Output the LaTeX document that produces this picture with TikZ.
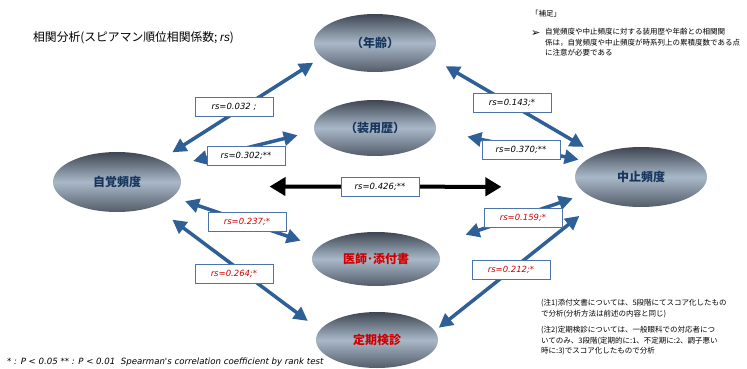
\documentclass[tikz,border=0pt]{standalone}
\usepackage{fontspec}
\setmainfont{Liberation Sans}
\newfontfamily\jp{Noto Sans CJK JP}
\newfontfamily\dv{DejaVu Sans}
\usetikzlibrary{shapes.geometric,arrows.meta}
\definecolor{arrblue}{HTML}{2E5F96}
\definecolor{boxline}{HTML}{4C74A8}
\definecolor{navy}{HTML}{17365D}
\definecolor{redt}{HTML}{D00000}
\definecolor{elldark}{HTML}{3E4652}
\definecolor{elllight}{HTML}{A9B8C8}
\tikzset{
  ell/.style={ellipse, inner sep=0pt, draw=none, top color=elldark, bottom color=elldark!80!elllight, middle color=elllight, font=\jp\bfseries\fontsize{12}{14}\selectfont, text=navy},
  redlab/.style={text=redt},
  biarrow/.style={arrblue, line width=3.5pt, {Triangle[length=14pt,width=14pt]}-{Triangle[length=14pt,width=14pt]}},
  blkarrow/.style={black, line width=4pt, {Triangle[length=16pt,width=18pt]}-{Triangle[length=16pt,width=18pt]}},
  rsbox/.style={draw=boxline, line width=0.8pt, fill=white, minimum width=78pt, minimum height=19pt, inner sep=1pt, font=\dv\itshape\fontsize{8.5}{10}\selectfont},
  rsred/.style={rsbox, text=redt},
  smalljp/.style={font=\jp\fontsize{7.5}{10.5}\selectfont, align=left, inner sep=0pt}
}
\begin{document}
\begin{tikzpicture}[x=1pt,y=-1pt]
\useasboundingbox (0,0) rectangle (747,369);
% ellipses
\node[ell, minimum width=128pt, minimum height=60pt] (J) at (117,182) {自覚頻度};
\node[ell, minimum width=122pt, minimum height=58pt] (N) at (375,43) {（年齢）};
\node[ell, minimum width=122pt, minimum height=56pt] (S) at (375,128) {（装用歴）};
\node[ell, minimum width=132pt, minimum height=60pt] (C) at (641,177) {中止頻度};
\node[ell, redlab, minimum width=128pt, minimum height=54pt] (I) at (376,259) {医師･添付書};
\node[ell, redlab, minimum width=122pt, minimum height=56pt] (T) at (377,340) {定期検診};
% connectors
\draw[biarrow, shorten <=14pt, shorten >=10pt] (J.27.8) -- (N.195.1);
\draw[biarrow, shorten <=22pt, shorten >=17pt] (J.16.1) -- (S.183.7);
\draw[blkarrow, shorten <=89pt, shorten >=77pt] (J.-4.5) -- (C.189.1);
\draw[biarrow, shorten <=13pt, shorten >=19pt] (J.345.2) -- (I.168.1);
\draw[biarrow, shorten <=22pt, shorten >=15pt] (J.327.3) -- (T.170.5);
\draw[biarrow, shorten <=19pt, shorten >=15pt] (N.346.9) -- (C.153.4);
\draw[biarrow, shorten <=32pt, shorten >=6.5pt] (S.358.8) -- (C.164.9);
\draw[biarrow, shorten <=35pt, shorten >=14pt] (I.13.9) -- (C.197.2);
\draw[biarrow, shorten <=5pt, shorten >=25pt] (T.9.0) -- (C.209.7);
% labels
\node[rsbox] (l1) at (234,107) {rs=0.032 ;};
\node[rsbox] (l2) at (246,156) {rs=0.302;**};
\node[rsbox] (l3) at (380,187) {rs=0.426;**};
\node[rsred] (l4) at (247,222) {rs=0.237;*};
\node[rsred] (l5) at (234,274) {rs=0.264;*};
\node[rsbox] (l6) at (512,103) {rs=0.143;*};
\node[rsbox] (l7) at (521,150) {rs=0.370;**};
\node[rsred] (l8) at (523,218) {rs=0.159;*};
\node[rsred] (l9) at (511,270) {rs=0.212;*};
% texts
\node[anchor=west, inner sep=0pt, font=\jp\fontsize{11.8}{13}\selectfont] (title) at (33,38) {相関分析(スピアマン順位相関係数; {\rmfamily\itshape rs})};
\node[smalljp, anchor=north west] (hosoku) at (531,10) {「補足」};
\node[anchor=west, inner sep=0pt, font=\dv\bfseries\fontsize{11}{12}\selectfont] (bul) at (531,33.5) {➢};
\node[smalljp, anchor=north west] (hosokutxt) at (545,28) {自覚頻度や中止頻度に対する装用歴や年齢との相関関\\係は，自覚頻度や中止頻度が時系列上の累積度数である点\\に注意が必要である};
\node[smalljp, anchor=north west] (note1) at (541,299) {(注1)添付文書については、5段階にてスコア化したもの\\で分析(分析方法は前述の内容と同じ)};
\node[smalljp, anchor=north west] (note2) at (541,326) {(注2)定期検診については、一般眼科での対応者につ\\いてのみ、3段階(定期的に:1、不定期に:2、調子悪い\\時に:3)でスコア化したもので分析};
\node[anchor=west, inner sep=0pt, font=\dv\itshape\fontsize{8.6}{9}\selectfont] (foot) at (7,362) {* : P < 0.05 ** : P < 0.01\ \ Spearman's correlation coefficient by rank test};
\end{tikzpicture}
\end{document}
